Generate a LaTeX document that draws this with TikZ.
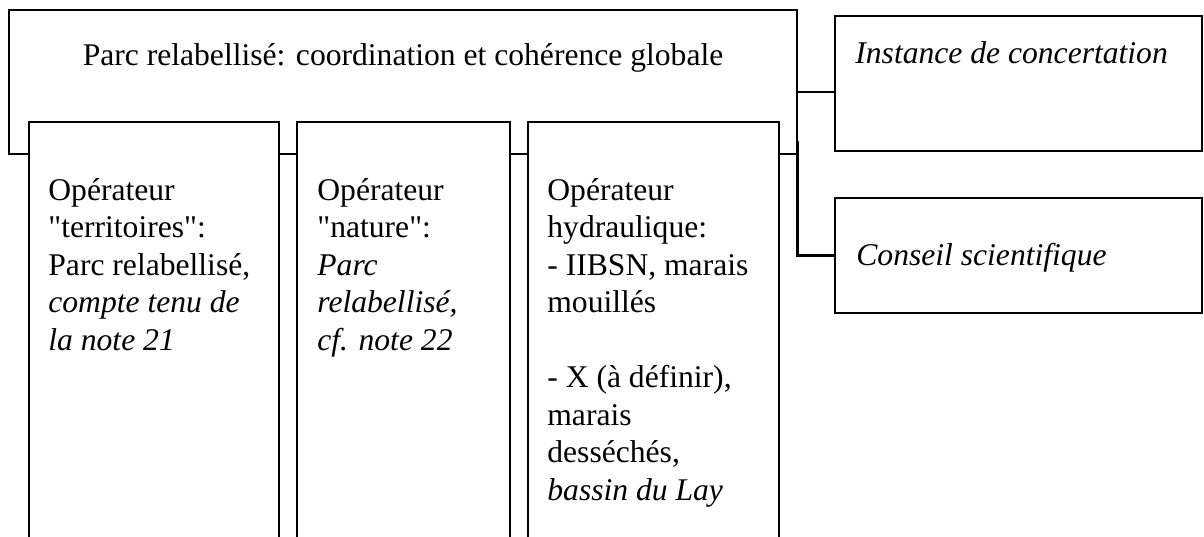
\documentclass[tikz,border=0pt]{standalone}
\usepackage{fontspec}
\setmainfont{Liberation Serif}
\usepackage{tikz}

\tikzset{
  box/.style={draw,line width=1pt,fill=white,inner sep=0pt,outer sep=0pt,anchor=north west},
  txt/.style={inner sep=0pt,anchor=base west,align=left,font=\fontsize{15.8}{18.75}\selectfont},
  link/.style={line width=1pt},
}
\newcommand{\dq}{\textquotedbl}

\begin{document}
\begin{tikzpicture}[x=0.5pt,y=-0.5pt]
\useasboundingbox (0,0) rectangle (1204,536);
\clip (0,0) rectangle (1204,536);

% Top box
\node[box,minimum width=394pt,minimum height=72pt] (parc) at (9,10) {};
\node[txt,anchor=base] (parct) at (403,65) {Parc relabellisé: coordination et cohérence globale};

% Operators (base anchor = last line)
\node[box,minimum width=125pt,minimum height=215pt] (terr) at (29,122) {};
\node[box,minimum width=106.5pt,minimum height=215pt] (nat) at (297,122) {};
\node[box,minimum width=125.5pt,minimum height=215pt] (hydro) at (528,122) {};

\node[txt] (terrt) at (48,350) {Opérateur\\\dq territoires\dq:\\Parc relabellisé,\\\textit{compte tenu de}\\\textit{la note 21}};
\node[txt] (natt) at (317,350) {Opérateur\\\dq nature\dq:\\\textit{Parc}\\\textit{relabellisé,}\\\textit{cf. note 22}};
\node[txt] (hydrot) at (547,500) {Opérateur\\hydraulique:\\- IIBSN, marais\\mouillés\\[18.75pt]- X (à définir),\\marais\\desséchés,\\\textit{bassin du Lay}};

% Side bodies
\node[box,minimum width=183.5pt,minimum height=67.5pt] (inst) at (835,16) {};
\node[txt] (instt) at (855,63) {\textit{Instance de concertation}};
\node[box,minimum width=183.5pt,minimum height=57.5pt] (cons) at (835,198) {};
\node[txt] (const) at (856,265) {\textit{Conseil scientifique}};

% Links
\coordinate (j1) at (797,92);
\coordinate (j2) at (797,141);
\draw[link] (j1) -- (j1 -| inst.west);
\draw[link,line width=1.5pt] (j2) |- (cons.west);
\end{tikzpicture}
\end{document}
